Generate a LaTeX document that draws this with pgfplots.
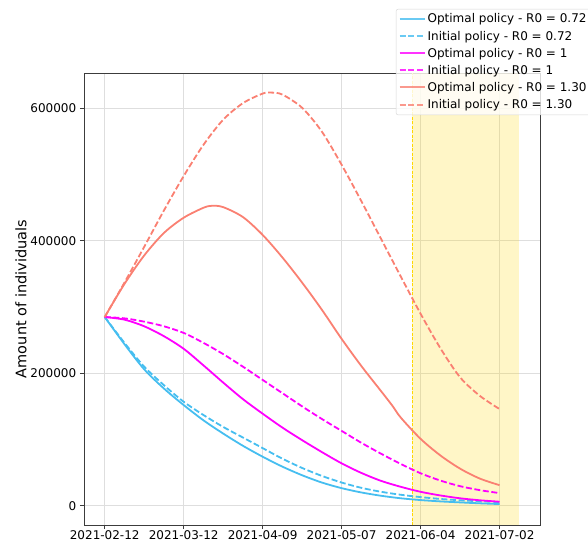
\documentclass[border=0pt]{standalone}
\usepackage{fontspec}
\setmainfont{DejaVu Sans}
\usepackage{pgfplots}
\pgfplotsset{compat=1.18}
\definecolor{cBlue}{RGB}{70,190,240}
\definecolor{cMag}{RGB}{255,0,255}
\definecolor{cSalmon}{RGB}{250,128,114}
\definecolor{cGold}{RGB}{255,215,0}
\definecolor{cGrid}{RGB}{222,222,222}
\definecolor{cSpine}{RGB}{60,60,60}

\begin{document}
\begin{tikzpicture}
\begin{axis}[
  name=ax,
  scale only axis, width=456pt, height=452pt,
  xmin=-7.35, xmax=154.35, ymin=-29150, ymax=653600,
  xtick={0,28,56,84,112,140},
  xticklabels={2021-02-12,2021-03-12,2021-04-09,2021-05-07,2021-06-04,2021-07-02},
  ytick={0,200000,400000,600000},
  yticklabels={0,200000,400000,600000},
  scaled y ticks=false,
  tick pos=left,
  tick align=outside, major tick length=4.2pt,
  tick style={cSpine, line width=0.8pt},
  axis line style={cSpine, line width=0.8pt},
  xmajorgrids, ymajorgrids,
  grid style={cGrid, line width=0.8pt},
  ticklabel style={font=\fontsize{12}{14}\selectfont},
  xticklabel style={yshift=2.5pt},
  ylabel={Amount of individuals},
  every axis y label/.style={at={(axis description cs:-0.138,0.5)}, rotate=90,
    anchor=center, font=\fontsize{14.5}{16}\selectfont},
  legend style={at={(0.684,1.1416)}, anchor=north west,
    font=\fontsize{12}{14}\selectfont, draw=black!20, rounded corners=2pt,
    fill=white, fill opacity=0.8, draw opacity=0.8, text opacity=1,
    row sep=2.6pt, inner sep=2.5pt},
  legend cell align=left,
  legend image code/.code={\draw[line width=2pt]
    (0pt,0.4pt) -- (25pt,0.4pt);},
  every axis plot/.append style={line width=1.8pt},
]
% shaded period and its start
\addplot[draw=none, fill=cGold, fill opacity=0.22, forget plot]
  coordinates {(109,-29150)(147,-29150)(147,653600)(109,653600)};
\addplot[cGold, line width=0.8pt, dash pattern=on 3pt off 1.5pt, forget plot]
  coordinates {(109,-29150)(109,653600)};

% R0 = 0.72
\addplot[cBlue, smooth] coordinates {
  (0,285000)(7,244000)(14,206000)(21,177000)(28,152000)(35,129000)(42,109000)
  (49,90500)(56,74000)(63,59000)(70,46000)(77,35000)(84,26500)(91,20000)
  (98,15000)(105,11200)(112,8500)(119,6500)(126,5000)(133,3600)(140,2500)};
\addlegendentry{Optimal policy - R0 = 0.72}
\addplot[cBlue, smooth, dash pattern=on 6pt off 2.6pt] coordinates {
  (0,285000)(7,246000)(14,210000)(21,182000)(28,157000)(35,137000)(42,119000)
  (49,103000)(56,87000)(63,71000)(70,57000)(77,45000)(84,35000)(91,27000)
  (98,21000)(105,16500)(112,13000)(119,10200)(126,8200)(133,6700)(140,5500)};
\addlegendentry{Initial policy - R0 = 0.72}

% R0 = 1
\addplot[cMag, smooth] coordinates {
  (0,285000)(7,281000)(14,271000)(21,256000)(28,237000)(35,212000)(42,186000)
  (49,161000)(56,139000)(63,118000)(70,99000)(77,81000)(84,64000)(91,49500)
  (98,37500)(105,28500)(112,21000)(119,15500)(126,11200)(133,8200)(140,6000)};
\addlegendentry{Optimal policy - R0 = 1}
\addplot[cMag, smooth, dash pattern=on 6pt off 2.6pt] coordinates {
  (0,285000)(7,283000)(14,278000)(21,271000)(28,261000)(35,246000)(42,229000)
  (49,210000)(56,190000)(63,170000)(70,150000)(77,131000)(84,113000)(91,95000)
  (98,78500)(105,63000)(112,49000)(119,38000)(126,29500)(133,23500)(140,19000)};
\addlegendentry{Initial policy - R0 = 1}

% R0 = 1.30
\addplot[cSalmon, smooth] coordinates {
  (0,285000)(7,335000)(14,378000)(21,412000)(28,435000)(35,450000)(38,453000)
  (42,451000)(49,436000)(56,409000)(63,375000)(70,337000)(77,296000)(84,252000)
  (91,211000)(98,173000)(102,151000)(105,133000)(112,101000)(119,76000)
  (126,56000)(133,41000)(140,31000)};
\addlegendentry{Optimal policy - R0 = 1.30}
\addplot[cSalmon, smooth, dash pattern=on 6pt off 2.6pt] coordinates {
  (0,285000)(7,337000)(14,391000)(21,446000)(28,498000)(35,545000)(42,583000)
  (49,608000)(56,622500)(59,624000)(63,621000)(70,601000)(77,565000)(84,515000)
  (91,460000)(98,403000)(105,346000)(112,290000)(119,238000)(126,194000)
  (133,166000)(140,146000)};
\addlegendentry{Initial policy - R0 = 1.30}
\end{axis}
\pgfresetboundingbox
\useasboundingbox ([shift={(-84pt,-18pt)}]ax.south west) rectangle ([shift={(48pt,73pt)}]ax.north east);
\end{tikzpicture}
\end{document}
